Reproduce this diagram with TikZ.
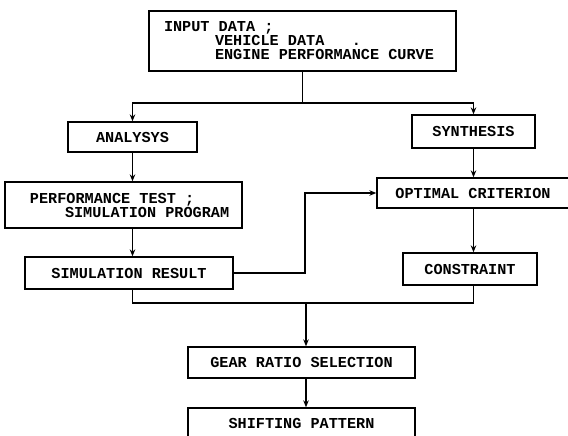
\documentclass[tikz,border=0pt]{standalone}
\usepackage{fontspec}
\setmonofont{Liberation Mono}
\usepackage{tikz}
\usetikzlibrary{positioning, arrows.meta}
\tikzset{fbox/.style={draw, line width=1.3pt, inner xsep=5pt, inner ysep=0pt, font=\ttfamily\bfseries\fontsize{15.2}{14}\selectfont}}
\tikzset{arr1/.style={draw, -{Stealth[length=7pt,width=5.5pt]}, line width=1.3pt}}
\tikzset{lin/.style={draw, line width=1.3pt}}

\begin{document}
\begin{tikzpicture}[x=1pt, y=-1pt]
            \useasboundingbox (0,0) rectangle (568,436);
            % boxes
            \node[fbox, text width=297pt, minimum height=60pt, align=left](input) at (302.5,41)
                {\spaceskip=0pt\hspace*{10pt}INPUT DATA ;\\ \hspace*{61pt}VEHICLE DATA\ \ \ .\\ \hspace*{61pt}ENGINE PERFORMANCE CURVE};
            \node[fbox, minimum width=129pt, minimum height=30pt](analysis) at (132.5,137) {ANALYSYS};
            \node[fbox, minimum width=123pt, minimum height=33pt](synth) at (473.5,131.5) {SYNTHESIS};
            \node[fbox, text width=227pt, minimum height=46pt, align=left](perf) at (123.5,205)
                {\spaceskip=0pt\hspace*{20pt}PERFORMANCE TEST ;\\ \hspace*{55pt}SIMULATION PROGRAM};
            \node[fbox, minimum width=192pt, minimum height=30pt](optimal) at (473,193) {OPTIMAL CRITERION};
            \node[fbox, minimum width=208pt, minimum height=32pt](simres) at (129,273) {SIMULATION RESULT};
            \node[fbox, minimum width=134pt, minimum height=32pt](constraint) at (470,269) {CONSTRAINT};
            \node[fbox, minimum width=227pt, minimum height=31pt](gear) at (301.5,362.5) {GEAR RATIO SELECTION};
            \node[fbox, minimum width=227pt, minimum height=30pt](shift) at (301.5,423) {SHIFTING PATTERN};
            % junctions
            \coordinate (split) at (input.south |- 0,103);
            \coordinate (feed) at (305,193);
            \coordinate (merge) at (306,303);
            % connectors
            \draw[lin](input.south) to (split);
            \draw[arr1](split) -| (analysis.north);
            \draw[arr1](split) -| (synth.north);
            \draw[arr1](analysis.south) to (analysis.south |- perf.north);
            \draw[arr1](analysis.south |- perf.south) to (analysis.south |- simres.north);
            \draw[arr1](simres.east) -| (feed) to (optimal.west);
            \draw[arr1](synth.south) to (synth.south |- optimal.north);
            \draw[arr1](synth.south |- optimal.south) to (synth.south |- constraint.north);
            \draw[lin](analysis.south |- simres.south) |- (merge) -| (synth.south |- constraint.south);
            \draw[arr1](merge) to (merge |- gear.north);
            \draw[arr1](merge |- gear.south) to (merge |- shift.north);
        \end{tikzpicture}
\end{document}
